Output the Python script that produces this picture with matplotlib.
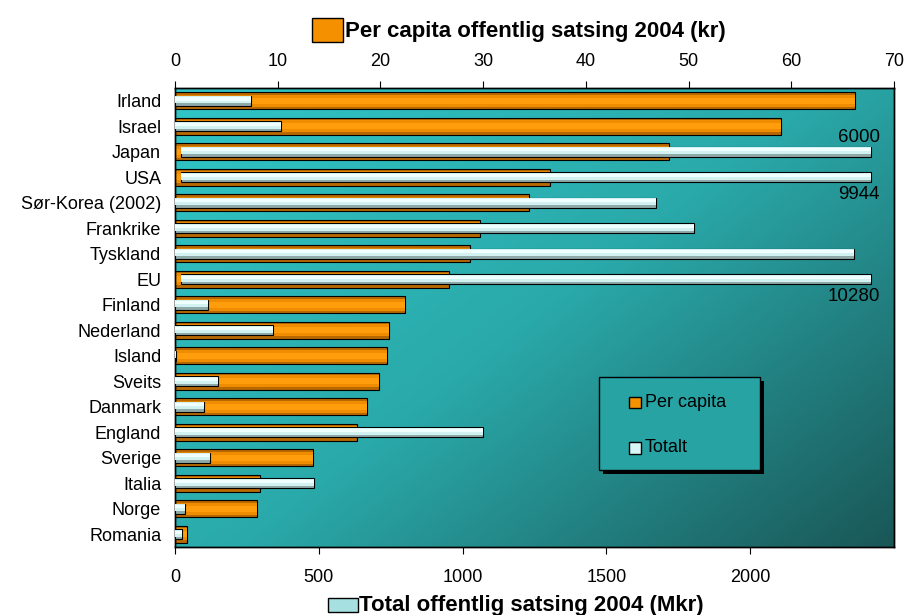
import numpy as np
import matplotlib.pyplot as plt
from matplotlib.colors import LinearSegmentedColormap
from matplotlib.patches import Rectangle

plt.rcParams['font.family'] = ['Liberation Sans', 'DejaVu Sans']

# data, top to bottom
countries = ['Irland', 'Israel', 'Japan', 'USA', 'Sør-Korea (2002)', 'Frankrike',
             'Tyskland', 'EU', 'Finland', 'Nederland', 'Island', 'Sveits',
             'Danmark', 'England', 'Sverige', 'Italia', 'Norge', 'Romania']
per_capita = [66.2, 59.0, 48.1, 36.5, 34.5, 29.7, 28.7, 26.7, 22.4, 20.8,
              20.6, 19.9, 18.7, 17.7, 13.4, 8.3, 8.0, 1.15]
total = [265, 369, 6000, 9944, 1671, 1804, 2361, 10280, 116, 341,
         4, 149, 100, 1071, 121, 483, 36, 23]

# bars above this are drawn broken, with the real value written next to them
break_at = 2420
break_start = 20

y = np.arange(len(countries))

fig = plt.figure(figsize=(9.05, 6.15), dpi=100)
ax = fig.add_axes([0.1934, 0.1106, 0.7945, 0.7463])
ax2 = ax.twiny()

# background gradient of the plot area
bg = LinearSegmentedColormap.from_list('bg', ['#31c6c6', '#2aa9aa', '#1a5757'])
xx, yy = np.meshgrid(np.linspace(0, 1, 300), np.linspace(0, 1, 200))
t = (0.55 * xx + 0.45 * yy)
ax.imshow(t, cmap=bg, extent=[0, 1, 0, 1], transform=ax.transAxes,
          aspect='auto', zorder=0, interpolation='bilinear')

# per capita bars (top axis), layered to give a shaded look
ax.barh(y, per_capita, height=0.68, color='#b76800', edgecolor='black', linewidth=0.8, zorder=2)
ax.barh(y, per_capita, height=0.46, color='#f08c00', linewidth=0, zorder=2)
ax.barh(y, per_capita, height=0.22, color='#ff9d0c', linewidth=0, zorder=2)

# total bars (bottom axis)
left = [break_start if v > break_at else 0 for v in total]
width = [break_at - break_start if v > break_at else v for v in total]
ax2.barh(y, width, left=left, height=0.41, color='#8fa9a9', edgecolor='black', linewidth=0.8, zorder=3)
ax2.barh(y - 0.04, width, left=left, height=0.26, color='#d2f2f2', linewidth=0, zorder=3)
ax2.barh(y - 0.07, width, left=left, height=0.12, color='#f0ffff', linewidth=0, zorder=3)

# value labels on the broken bars
for i, v in enumerate(total):
    if v > break_at:
        off = -0.57 if countries[i] == 'Japan' else 0.68
        ax2.text(break_at + 30, i + off, str(v), ha='right', va='center', fontsize=13.5, zorder=4)

ax.set_ylim(len(countries) - 0.5, -0.5)
ax.set_xlim(0, 70)
ax2.set_xlim(0, 2500)
ax.set_yticks(y)
ax.set_yticklabels(countries, fontsize=13)
ax.tick_params(axis='y', length=0, pad=10)

ax.xaxis.set_ticks_position('top')
ax.set_xticks(np.arange(0, 71, 10))
ax.tick_params(axis='x', labelsize=13, length=5, direction='out', pad=8)
ax2.xaxis.set_ticks_position('bottom')
ax2.xaxis.set_label_position('bottom')
ax2.set_xticks([0, 500, 1000, 1500, 2000])
ax2.tick_params(axis='x', labelsize=13, length=5, direction='out', pad=11)
ax2.patch.set_visible(False)
for a in (ax, ax2):
    for s in a.spines.values():
        s.set_color('black')
        s.set_linewidth(1)

# legend box drawn by hand (shadow, frame, swatches, labels), in axes fractions
lx, ly, lw, lh = 0.589, 0.167, 0.224, 0.203
ax2.add_patch(Rectangle((lx + 0.006, ly - 0.009), lw, lh, transform=ax2.transAxes,
                        facecolor='black', edgecolor='none', zorder=5))
ax2.add_patch(Rectangle((lx, ly), lw, lh, transform=ax2.transAxes,
                        facecolor='#27a3a4', edgecolor='black', linewidth=1, zorder=6))
for k, (lab, col) in enumerate([('Per capita', '#f59000'), ('Totalt', '#d8f6f6')]):
    yy_ = ly + lh * (0.73 - 0.49 * k)
    ax2.add_patch(Rectangle((lx + 0.043, yy_ - 0.0125), 0.016, 0.025, transform=ax2.transAxes,
                            facecolor=col, edgecolor='black', linewidth=1, zorder=7))
    ax2.text(lx + 0.064, yy_, lab, transform=ax2.transAxes, fontsize=13,
             ha='left', va='center', zorder=7)

# axis titles with their colour swatches
fig.text(0.381, 0.949, 'Per capita offentlig satsing 2004 (kr)', fontsize=16, fontweight='bold',
         ha='left', va='center')
fig.patches.append(Rectangle((0.345, 0.932), 0.034, 0.038, transform=fig.transFigure,
                             facecolor='#f59000', edgecolor='black', linewidth=1))
fig.text(0.397, 0.016, 'Total offentlig satsing 2004 (Mkr)', fontsize=16, fontweight='bold',
         ha='left', va='center')
fig.patches.append(Rectangle((0.362, 0.005), 0.034, 0.022, transform=fig.transFigure,
                             facecolor='#a6e0e0', edgecolor='black', linewidth=1))

fig.savefig('out.png', dpi=100)
